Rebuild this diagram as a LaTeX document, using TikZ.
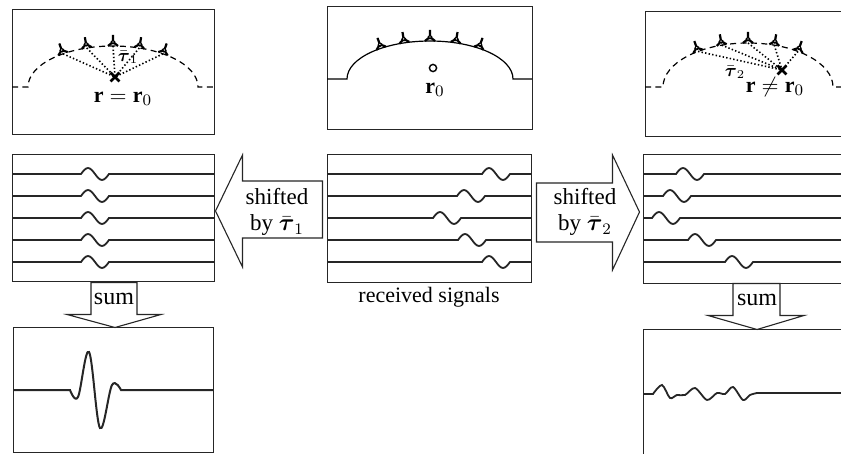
\documentclass[tikz,border=0pt]{standalone}
\usepackage{amsmath,amssymb}
\usepackage{fontspec}
\setmainfont{Liberation Serif}
\usetikzlibrary{fit,calc}

% transducer drawn on the array front
\tikzset{probe/.pic={
    \draw[line width=1.1pt] (0,-11) -- (0,-4) (-5,0) -- (0,-4) -- (5,0);
    \draw[line width=0.6pt, fill=white] (0,-4) circle (1.8);
}}

\begin{document}
\begin{tikzpicture}[x=0.5pt, y=-0.5pt,
    panel/.style={draw=black!85, line width=0.5pt, inner sep=0pt},
    trace/.style={line width=0.9pt, draw=black!85},
    front/.style={line width=0.6pt, dash pattern=on 3pt off 2.2pt},
    ray/.style={line width=0.8pt, dash pattern=on 0.7pt off 1.1pt},
    block/.style={draw=black!85, line width=0.55pt, fill=white, line join=miter},
    lab/.style={font=\fontsize{11.5}{13}\selectfont, align=center, inner sep=0pt},
    cross/.style={line width=1.3pt}]

    \useasboundingbox (0,0) rectangle (841,454);

    % ============ PANELS ============
    \node[panel, fit={(12,10) (214,135)}]  (geoL) {};
    \node[panel, fit={(327,7) (532,130)}]  (geoC) {};
    \node[panel, fit={(645,12) (852,137)}] (geoR) {};
    \node[panel, fit={(12,155) (214,282)}]  (sigL) {};
    \node[panel, fit={(327,155) (531,283)}] (sigC) {};
    \node[panel, fit={(643,155) (852,284)}] (sigR) {};
    \node[panel, fit={(13,328) (213,452)}]  (sumL) {};
    \node[panel, fit={(643,330) (852,470)}] (sumR) {};

    % ============ TOP ROW: array geometry ============
    % focused on the true source
    \draw[front] (12,87) -- (28,87) arc[start angle=180, end angle=360, x radius=85, y radius=41] -- (214,87);
    \foreach \t [count=\i] in {234,252,270,288,306} {
      \coordinate (pL\i) at ({113+85*cos(\t)},{87+41*sin(\t)});
    }
    \node[inner sep=0pt, minimum size=4pt] (xL) at (115,77) {};
    \foreach \i in {1,...,5} \draw[ray] (pL\i) -- (xL.center);
    \foreach \t [count=\i] in {234,252,270,288,306}
      \pic[rotate={(270-\t)*0.55}] at (pL\i) {probe};
    \draw[cross] (xL.north west) -- (xL.south east) (xL.north east) -- (xL.south west);
    \node[font=\small] (tauL) at (128,57) {$\bar{\boldsymbol{\tau}}_1$};
    \node[font=\fontsize{11}{13}\selectfont] (rL) at (123,99) {$\mathbf{r}=\mathbf{r}_0$};

    % measured configuration
    \draw[line width=0.6pt] (327,79) -- (347,79) arc[start angle=180, end angle=360, x radius=83, y radius=38] -- (532,79);
    \foreach \t [count=\i] in {234,252,270,288,306} {
      \coordinate (pC\i) at ({430+83*cos(\t)},{79+38*sin(\t)});
      \pic[rotate={(270-\t)*0.55}] at (pC\i) {probe};
    }
    \node[draw, circle, inner sep=0pt, minimum size=3.6pt, line width=0.7pt] (src) at (433,68) {};
    \node[font=\fontsize{11}{13}\selectfont] (rC) at (435,90) {$\mathbf{r}_0$};

    % focused on a wrong point
    \draw[front] (645,87) -- (663,87) arc[start angle=180, end angle=360, x radius=85, y radius=44] -- (852,87);
    \foreach \t [count=\i] in {234,252,270,288,306} {
      \coordinate (pR\i) at ({748+85*cos(\t)},{87+44*sin(\t)});
    }
    \node[inner sep=0pt, minimum size=4pt] (xR) at (782,70) {};
    \foreach \i in {1,...,5} \draw[ray] (pR\i) -- (xR.center);
    \foreach \t [count=\i] in {234,252,270,288,306}
      \pic[rotate={(270-\t)*0.55}] at (pR\i) {probe};
    \draw[cross] (xR.north west) -- (xR.south east) (xR.north east) -- (xR.south west);
    \node[font=\small] (tauR) at (735,72) {$\bar{\boldsymbol{\tau}}_2$};
    \node[font=\fontsize{11}{13}\selectfont] (rR) at (775,87) {$\mathbf{r}\neq\mathbf{r}_0$};

    % ============ MIDDLE ROW: traces ============
    \foreach \yy/\cc in {174/95, 196/95, 218/95, 240/95, 262/95}
      \draw[trace] (12,\yy) -- (\cc-14,\yy) sin (\cc-7,\yy-6) cos (\cc,\yy) sin (\cc+7,\yy+6) cos (\cc+14,\yy) -- (214,\yy);
    \foreach \yy/\cc in {174/496, 196/471, 218/447, 240/472, 262/496}
      \draw[trace] (327,\yy) -- (\cc-14,\yy) sin (\cc-7,\yy-6) cos (\cc,\yy) sin (\cc+7,\yy+6) cos (\cc+14,\yy) -- (531,\yy);
    \foreach \yy/\cc in {174/690, 196/677, 218/666, 240/702, 262/739}
      \draw[trace] (643,\yy) -- (\cc-14,\yy) sin (\cc-7,\yy-6) cos (\cc,\yy) sin (\cc+7,\yy+6) cos (\cc+14,\yy) -- (852,\yy);

    \node[font=\fontsize{11}{13}\selectfont] (rx) at (429,297) {received signals};

    % shift arrows
    \draw[block] (sigL.east) ++(1,-7.5) -- ++(27,-56) -- ++(0,26) -- ++(80,0) -- ++(0,57) -- ++(-80,0) -- ++(0,29) -- cycle;
    \node[lab] (shL) at (277,212) {shifted\\by $\bar{\boldsymbol{\tau}}_1$};
    \draw[block] (sigR.west) ++(-3,-7.5) -- ++(-27,-57) -- ++(0,28) -- ++(-76,0) -- ++(0,59) -- ++(76,0) -- ++(0,28) -- cycle;
    \node[lab] (shR) at (585,212) {shifted\\by $\bar{\boldsymbol{\tau}}_2$};

    % ============ BOTTOM ROW: beam sums ============
    \draw[block] (sumL.north) ++(2,0) -- ++(-48,-13) -- ++(24,0) -- ++(0,-32) -- ++(46,0) -- ++(0,32) -- ++(24,0) -- cycle;
    \node[lab, font=\fontsize{12}{14}\selectfont] (sL) at (114,299) {sum};
    \draw[block] (sumR.north) ++(9.5,0) -- ++(-49,-14) -- ++(25,0) -- ++(0,-32) -- ++(47,0) -- ++(0,32) -- ++(24,0) -- cycle;
    \node[lab, font=\fontsize{12}{14}\selectfont] (sR) at (757,300) {sum};

    \draw[trace, line width=1pt] (13,390) -- (70,390) -- plot[smooth, tension=0.6] coordinates
      {(70,390) (78,397) (89,352) (100,428) (112,385) (121,390)} -- (213,390);
    \draw[trace] (643,394) -- plot[smooth, tension=0.5] coordinates
      {(653,394) (662,385) (670,398) (677,395) (685,395) (695,388) (707,400) (717,393)
       (725,394) (733,387) (743,400) (750,395) (757,393)} -- (852,393);

\end{tikzpicture}
\end{document}
